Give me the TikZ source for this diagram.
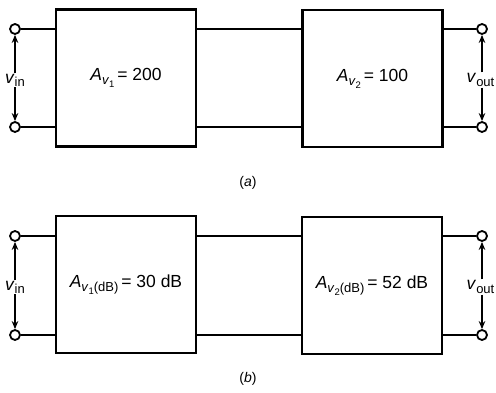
\documentclass[tikz,border=0pt]{standalone}
\usepackage{fontspec}
\setmainfont{Liberation Sans}
\usetikzlibrary{arrows.meta}
\newcommand\Avsub[2]{\textit{A}\raisebox{-0.45ex}{\fontsize{13}{14}\selectfont\textit{v}\raisebox{-0.4ex}{\fontsize{9.5}{10}\selectfont #1}#2}}
\newcommand\vsub[1]{\textit{v}\raisebox{-0.35ex}{\fontsize{13}{14}\selectfont #1}}
\begin{document}
\begin{tikzpicture}[x=1pt,y=-1pt,
 amp/.style={draw,line width=2.6pt,minimum width=140pt,minimum height=137pt,inner sep=0pt,font=\fontsize{17.5}{20}\selectfont},
 term/.style={circle,draw,line width=1.8pt,fill=white,minimum size=10pt,inner sep=0pt},
 wire/.style={line width=2pt},
 varr/.style={line width=2pt,-{Stealth[length=8pt,width=6.5pt]}},
 lbl/.style={font=\fontsize{17.5}{20}\selectfont,inner xsep=0pt,inner ysep=1pt},
 captxt/.style={font=\fontsize{14}{16}\selectfont}]
\useasboundingbox (0,0) rectangle (496,393);
% ---------- (a)
\node[amp] (a1) at (126,78) {\Avsub{1}{}\,= 200};
\node[amp] (a2) at (372.5,78.5) {\Avsub{2}{}\,= 100};
\node[term] (ai1) at (15,29) {};
\node[term] (ai2) at (15,127) {};
\node[term] (ao1) at (482,29) {};
\node[term] (ao2) at (482,127) {};
\draw[wire] (ai1) -- (ai1 -| a1.west);
\draw[wire] (ai2) -- (ai2 -| a1.west);
\draw[wire] (ai1 -| a1.east) -- (ai1 -| a2.west);
\draw[wire] (ai2 -| a1.east) -- (ai2 -| a2.west);
\draw[wire] (ao1 -| a2.east) -- (ao1);
\draw[wire] (ao2 -| a2.east) -- (ao2);
\node[lbl] (avin) at (15,80) {\vsub{in}};
\node[lbl] (avout) at (480.5,80) {\vsub{out}};
\draw[varr] (avin.north -| ai1) -- (ai1.south);
\draw[varr] (avin.south -| ai2) -- (ai2.north);
\draw[varr] (avout.north -| ao1) -- (ao1.south);
\draw[varr] (avout.south -| ao2) -- (ao2.north);
\node[captxt] (capa) at (248,183) {(\textit{a})};
% ---------- (b)
\node[amp] (b1) at (126,284.5) {\Avsub{1}{(dB)}\,= 30 dB};
\node[amp] (b2) at (372,285.5) {\Avsub{2}{(dB)}\,= 52 dB};
\node[term] (bi1) at (15,236) {};
\node[term] (bi2) at (15,335) {};
\node[term] (bo1) at (482,236) {};
\node[term] (bo2) at (482,335) {};
\draw[wire] (bi1) -- (bi1 -| b1.west);
\draw[wire] (bi2) -- (bi2 -| b1.west);
\draw[wire] (bi1 -| b1.east) -- (bi1 -| b2.west);
\draw[wire] (bi2 -| b1.east) -- (bi2 -| b2.west);
\draw[wire] (bo1 -| b2.east) -- (bo1);
\draw[wire] (bo2 -| b2.east) -- (bo2);
\node[lbl] (bvin) at (15,287) {\vsub{in}};
\node[lbl] (bvout) at (480.5,287) {\vsub{out}};
\draw[varr] (bvin.north -| bi1) -- (bi1.south);
\draw[varr] (bvin.south -| bi2) -- (bi2.north);
\draw[varr] (bvout.north -| bo1) -- (bo1.south);
\draw[varr] (bvout.south -| bo2) -- (bo2.north);
\node[captxt] (capb) at (248,379) {(\textit{b})};
\end{tikzpicture}
\end{document}
